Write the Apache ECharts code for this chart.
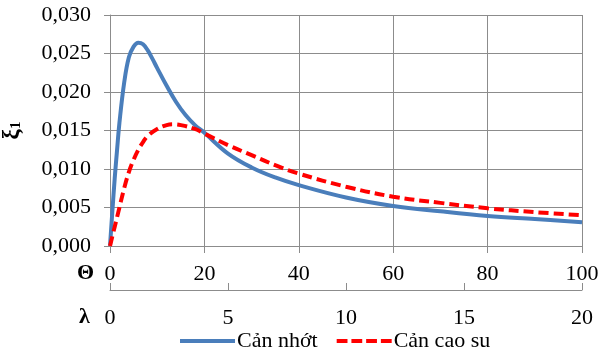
<!DOCTYPE html>
<html>
<head>
<meta charset="utf-8">
<script src="https://cdn.jsdelivr.net/npm/echarts@6/dist/echarts.min.js"></script>
<style>
html,body{margin:0;padding:0;background:#fff;}
#c{width:598px;height:349px;}
</style>
</head>
<body>
<div id="c"></div>
<script>
// Θ values (upper x-axis) and damping ratio ξ1 values
var thetaViscous = [0, 0.5, 1, 1.5, 2, 3, 4, 5, 6, 7, 8, 9, 10, 12, 14, 16, 18, 20, 25, 30, 35, 40, 50, 60, 70, 80, 90, 100];
var xiViscous    = [0, 0.0045, 0.0088, 0.0125, 0.0160, 0.0212, 0.0245, 0.0259, 0.0264, 0.0262, 0.0254, 0.0243, 0.0231, 0.0208, 0.0187, 0.0170, 0.0157, 0.0147, 0.0120, 0.0102, 0.0089, 0.0079, 0.0063, 0.0052, 0.0045, 0.0039, 0.0035, 0.0031];
var thetaRubber  = [0, 1, 2, 3, 4, 5, 6, 7, 8, 10, 12, 13.5, 15, 18, 20, 25, 30, 35, 40, 50, 60, 70, 80, 90, 100];
var xiRubber     = [0, 0.0025, 0.0050, 0.0075, 0.0096, 0.0112, 0.0125, 0.0135, 0.0143, 0.0152, 0.0157, 0.0158, 0.0157, 0.0152, 0.0146, 0.0131, 0.0118, 0.0105, 0.0094, 0.0077, 0.0064, 0.0056, 0.0049, 0.0044, 0.0040];
var seriesNames  = ['Cản nhớt', 'Cản cao su'];
var thetaRange = [0, 100, 20];
var lambdaRange = [0, 20, 5];
var yRange = [0, 0.030, 0.005];

function pairs(xs, ys){ return xs.map(function(x,i){ return [x, ys[i]]; }); }

var FONT = '"Liberation Serif", "Times New Roman", serif';
var GRID = '#8c8c8c';
var chart = echarts.init(document.getElementById('c'), null, {renderer:'canvas'});
chart.setOption({
  animation:false,
  backgroundColor:'#fff',
  grid:{left:110, right:16, top:15, bottom:103, containLabel:false, outerBoundsMode:'none'},
  xAxis:[{
    type:'value', min:thetaRange[0], max:thetaRange[1], interval:thetaRange[2], position:'bottom',
    axisLine:{show:true, onZero:false, lineStyle:{color:GRID, width:1}},
    axisTick:{show:true, inside:false, length:7, lineStyle:{color:GRID}},
    splitLine:{show:true, lineStyle:{color:GRID, width:1}},
    axisLabel:{fontFamily:FONT, fontSize:22, color:'#000', margin:17, showMaxLabel:true, hideOverlap:false}
  },{
    type:'value', min:lambdaRange[0], max:lambdaRange[1], interval:lambdaRange[2], position:'bottom', offset:44,
    axisLine:{show:true, onZero:false, lineStyle:{color:GRID, width:1}},
    axisTick:{show:true, inside:true, length:7, lineStyle:{color:GRID}},
    splitLine:{show:false},
    axisLabel:{fontFamily:FONT, fontSize:22, color:'#000', margin:17}
  }],
  yAxis:{
    type:'value', min:yRange[0], max:yRange[1], interval:yRange[2],
    axisLine:{show:true, lineStyle:{color:GRID, width:1}},
    axisTick:{show:true, length:6, lineStyle:{color:GRID}},
    splitLine:{show:true, lineStyle:{color:GRID, width:1}},
    axisLabel:{fontFamily:FONT, fontSize:22, color:'#000', margin:19,
      formatter:function(v){ return v.toFixed(3).replace('.', ','); }},
    name:'{m|ξ}{s|1}', nameLocation:'middle', nameGap:86, nameRotate:90,
    nameTextStyle:{rich:{
      m:{fontFamily:FONT, fontSize:23, fontWeight:'bold', color:'#000'},
      s:{fontFamily:FONT, fontSize:15, fontWeight:'bold', color:'#000', verticalAlign:'bottom', padding:[9,0,0,0]}
    }}
  },
  legend:{
    left:175, top:325, itemWidth:55, itemHeight:4, itemGap:19,
    textStyle:{fontFamily:FONT, fontSize:22, color:'#000', padding:[0,0,0,-3]},
    data:[
      {name:seriesNames[0], icon:'path://M0,0h56v4h-56z'},
      {name:seriesNames[1], icon:'path://M0,0h11v4h-11z M15,0h11v4h-11z M30,0h11v4h-11z M45,0h11v4h-11z'}
    ]
  },
  graphic:[
    {type:'text', left:77, top:262, style:{text:'Θ', font:'bold 22px ' + FONT, fill:'#000'}},
    {type:'text', left:79, top:306, style:{text:'λ', font:'bold 22px ' + FONT, fill:'#000'}}
  ],
  series:[{
    name:seriesNames[0], type:'line', xAxisIndex:0, smooth:0.4, symbol:'none', showSymbol:false,
    lineStyle:{color:'#4a7ebb', width:4}, itemStyle:{color:'#4a7ebb'},
    data:pairs(thetaViscous, xiViscous)
  },{
    name:seriesNames[1], type:'line', xAxisIndex:0, smooth:0.4, symbol:'none', showSymbol:false,
    lineStyle:{color:'#ff0000', width:4, type:[10,5]}, itemStyle:{color:'#ff0000'},
    data:pairs(thetaRubber, xiRubber)
  }]
});
</script>
</body>
</html>
